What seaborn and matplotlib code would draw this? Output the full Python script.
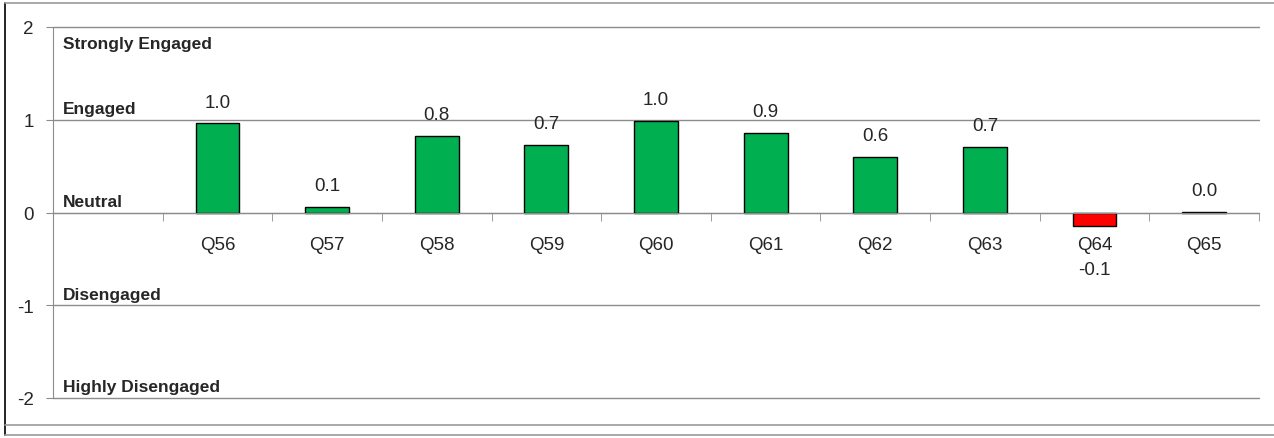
import matplotlib
matplotlib.use("Agg")
import matplotlib.pyplot as plt
from matplotlib.lines import Line2D
import pandas as pd
import seaborn as sns

# -----------------------------
# Data
# -----------------------------
questions = ["Q56", "Q57", "Q58", "Q59", "Q60", "Q61", "Q62", "Q63", "Q64", "Q65"]
scores = [0.96, 0.06, 0.83, 0.73, 0.99, 0.86, 0.60, 0.71, -0.15, 0.01]
order = [""] + questions  # first slot is left empty for the level labels
level_names = ["Strongly Engaged", "Engaged", "Neutral", "Disengaged", "Highly Disengaged"]
level_pos = [1.74, 1.04, 0.04, -0.96, -1.96]
y_ticks = [-2, -1, 0, 1, 2]

df = pd.DataFrame({"question": questions, "score": scores})
df["sign"] = ["neg" if s < 0 else "pos" for s in scores]

sns.set_style("white")
plt.rcParams["font.family"] = ["Liberation Sans", "DejaVu Sans"]

fig = plt.figure(figsize=(12.74, 4.39), dpi=100)
ax = fig.add_axes([53 / 1274, 1 - 399 / 439, (1259 - 53) / 1274, (399 - 28) / 439])

sns.barplot(
    data=df, x="question", y="score", order=order,
    hue="sign", palette={"pos": "#00B050", "neg": "#FF0000"}, saturation=1,
    width=0.4, edgecolor="black", linewidth=1,
    errorbar=None, legend=False, ax=ax,
)

ax.set_ylim(-2, 2)
ax.set_xlim(-0.5, len(order) - 0.5)
ax.set_yticks(y_ticks)
ax.set_yticklabels([str(t) for t in y_ticks], fontsize=13.5)
ax.yaxis.grid(True, color="#8c8c8c", linewidth=1)
for gl in ax.get_ygridlines():
    gl.set_clip_on(False)
ax.set_axisbelow(True)
ax.set_xlabel("")
ax.set_ylabel("")

# spines: gray y axis, category axis sitting on zero
for s in ["top", "right"]:
    ax.spines[s].set_visible(False)
ax.spines["left"].set_color("#8c8c8c")
ax.spines["bottom"].set_position(("data", 0))
ax.spines["bottom"].set_color("#8c8c8c")
ax.tick_params(axis="y", length=5, color="#8c8c8c", pad=9, left=True, direction="out")

# category ticks between slots, labels in slot centres
ax.set_xticks(range(len(order)))
ax.set_xticklabels(order, fontsize=13.5)
ax.set_xticks([i + 0.5 for i in range(len(order))], minor=True)
ax.tick_params(axis="x", which="major", length=0, pad=17, bottom=True)
ax.tick_params(axis="x", which="minor", length=6, color="#8c8c8c", bottom=True, direction="out")

# value labels
for q, v in zip(questions, scores):
    xpos = order.index(q)
    offset = 21 if v >= 0 else -43
    ax.annotate(f"{v:.1f}", (xpos, v), xytext=(0, offset), textcoords="offset pixels",
                ha="center", va="center", fontsize=13.5)

# engagement level names on the left
for name, pos in zip(level_names, level_pos):
    ax.text(-0.41, pos, name, ha="left", va="bottom",
            fontsize=12.5, fontweight="bold")

# chart frame
fig.add_artist(Line2D([5 / 1274, 5 / 1274], [1 - 4 / 439, 1 - 436 / 439],
                      transform=fig.transFigure, color="black", linewidth=1.2))
fig.add_artist(Line2D([5 / 1274, 1], [1 - 4 / 439, 1 - 4 / 439],
                      transform=fig.transFigure, color="#9a9a9a", linewidth=1.2))
fig.add_artist(Line2D([5 / 1274, 1], [1 - 426 / 439, 1 - 426 / 439],
                      transform=fig.transFigure, color="#9a9a9a", linewidth=1.2))
fig.add_artist(Line2D([5 / 1274, 1], [1 - 436 / 439, 1 - 436 / 439],
                      transform=fig.transFigure, color="#9a9a9a", linewidth=1.2))

fig.savefig("out.png", dpi=100)
